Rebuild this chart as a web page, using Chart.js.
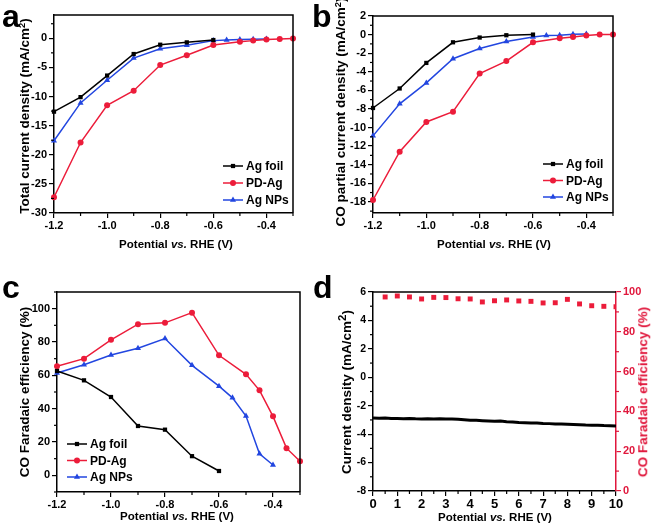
<!DOCTYPE html>
<html>
<head>
<meta charset="utf-8">
<script src="https://cdn.jsdelivr.net/npm/chart.js@4.4.1/dist/chart.umd.min.js"></script>
<style>
  body { margin: 0; background: #fff; }
  #wrap { position: relative; width: 653px; height: 529px; background: #fff; overflow: hidden; }
  canvas { position: absolute; }
  .lbl { position: absolute; font-family: "Liberation Sans", Arial, sans-serif; font-weight: bold; color: #000; white-space: nowrap; line-height: 1; }
  .letter { font-size: 32px; }
  .xt { font-size: 11.5px; transform: translate(-50%, -50%); }
  .yt { font-size: 13.5px; transform: translate(-50%, -50%) rotate(-90deg); }
  sup { font-size: 0.7em; vertical-align: 0.45em; line-height: 0; }
</style>
</head>
<body>
<div id="wrap">
  <canvas id="chartA" width="320" height="260" style="left:0;top:0"></canvas>
  <canvas id="chartB" width="333" height="260" style="left:320px;top:0"></canvas>
  <canvas id="chartC" width="320" height="269" style="left:0;top:260px"></canvas>
  <canvas id="chartD" width="333" height="269" style="left:320px;top:260px"></canvas>

  <div class="lbl letter" style="left:2px;top:0">a</div>
  <div class="lbl letter" style="left:312px;top:0">b</div>
  <div class="lbl letter" style="left:2px;top:271px">c</div>
  <div class="lbl letter" style="left:313px;top:271px">d</div>

  <div class="lbl xt" style="left:176px;top:245px">Potential <i>vs.</i> RHE (V)</div>
  <div class="lbl xt" style="left:494px;top:245px">Potential <i>vs.</i> RHE (V)</div>
  <div class="lbl xt" style="left:177px;top:517px">Potential <i>vs.</i> RHE (V)</div>
  <div class="lbl xt" style="left:495px;top:518px">Potential <i>vs.</i> RHE (V)</div>

  <div class="lbl yt" style="left:25px;top:116px">Total current density (mA/cm<sup>2</sup>)</div>
  <div class="lbl yt" style="left:341px;top:112px">CO partial current density (mA/cm<sup>2</sup>)</div>
  <div class="lbl yt" style="left:25px;top:392px">CO Faradaic efficiency (%)</div>
  <div class="lbl yt" style="left:347px;top:392px">Current density (mA/cm<sup style="font-size:0.85em">2</sup>)</div>
  <div class="lbl yt" style="left:643px;top:392px;color:#e0173c">CO Faradaic efficiency (%)</div>
</div>

<script>
// potentials (V vs RHE) for each sample
const potFoil = [-1.2, -1.1, -1.0, -0.9, -0.8, -0.7, -0.6];
const potPD = [-1.2, -1.1, -1.0, -0.9, -0.8, -0.7, -0.6, -0.5, -0.45, -0.4, -0.35, -0.3];
const potNP = [-1.2, -1.1, -1.0, -0.9, -0.8, -0.7, -0.6, -0.55, -0.5, -0.45, -0.4];

// a: total current density
const totalFoil = [-12.6, -10.1, -6.4, -2.7, -1.1, -0.7, -0.3];
const totalPD = [-27.3, -17.9, -11.5, -9.0, -4.6, -2.9, -1.15, -0.6, -0.4, -0.2, -0.1, -0.05];
const totalNP = [-17.6, -11.1, -7.2, -3.4, -1.8, -1.2, -0.4, -0.3, -0.2, -0.15, -0.1];

// b: CO partial current density
const coFoil = [-7.9, -5.8, -3.05, -0.83, -0.32, -0.07, 0];
const coPD = [-17.8, -12.6, -9.4, -8.3, -4.2, -2.85, -0.83, -0.4, -0.25, -0.1, 0, 0];
const coNP = [-10.9, -7.45, -5.2, -2.6, -1.5, -0.75, -0.25, -0.1, -0.07, 0.03, 0.07];

// c: CO faradaic efficiency
const feFoil = [62.6, 57, 47, 29.6, 27.4, 11.5, 2.6];
const fePD = [65.4, 70, 81.3, 90.7, 91.5, 97.6, 72, 60.6, 51, 35.4, 16.3, 8.5];
const feNP = [61.4, 66.4, 72.2, 76.3, 82.1, 66, 53.5, 46.5, 35.6, 12.9, 6.2];

// d: stability
const timeJ = [0, 0.25, 0.5, 0.75, 1, 1.25, 1.5, 1.75, 2, 2.25, 2.5, 2.75, 3, 3.25, 3.5, 3.75, 4, 4.25, 4.5, 4.75,
  5, 5.25, 5.5, 5.75, 6, 6.25, 6.5, 6.75, 7, 7.25, 7.5, 7.75, 8, 8.25, 8.5, 8.75, 9, 9.25, 9.5, 9.75, 10];
const stabJ = [-2.86, -2.88, -2.87, -2.90, -2.90, -2.91, -2.90, -2.92, -2.93, -2.91, -2.93, -2.92, -2.93, -2.94, -2.96, -2.99,
  -3.02, -3.03, -3.05, -3.07, -3.09, -3.08, -3.12, -3.15, -3.18, -3.19, -3.21, -3.22, -3.25, -3.26, -3.28, -3.28,
  -3.30, -3.32, -3.34, -3.36, -3.37, -3.38, -3.40, -3.41, -3.43];
const timeFE = [0.5, 1, 1.5, 2, 2.5, 3, 3.5, 4, 4.5, 5, 5.5, 6, 6.5, 7, 7.5, 8, 8.5, 9, 9.5, 10];
const stabFE = [97.5, 98.0, 97.5, 96.5, 97.3, 97.2, 96.6, 96.5, 95.0, 95.6, 96.0, 95.5, 95.3, 94.5, 94.6, 96.3, 94.0, 93.1, 92.8, 92.6];

// tick values
const potTicks = [-1.2, -1.0, -0.8, -0.6, -0.4];
const totalTicks = [-30, -25, -20, -15, -10, -5, 0];
const coTicks = [-18, -16, -14, -12, -10, -8, -6, -4, -2, 0, 2];
const feTicks = [0, 20, 40, 60, 80, 100];
const timeTicks = [0, 1, 2, 3, 4, 5, 6, 7, 8, 9, 10];
const stabJTicks = [-8, -6, -4, -2, 0, 2, 4, 6];
const stabFETicks = [0, 20, 40, 60, 80, 100];

const BLACK = '#000000', RED = '#ec1c3a', BLUE = '#2246e0', AXRED = '#e0173c';

Chart.defaults.font.family = '"Liberation Sans", Arial, sans-serif';
Chart.defaults.font.weight = 'bold';
Chart.defaults.color = '#000';

function pts(xs, ys) {
  return xs.map((x, i) => ({ x: x, y: ys[i] }));
}

// top/right frame and short minor ticks
const framePlugin = {
  id: 'frame',
  afterDraw(chart, args, opts) {
    const { ctx, chartArea: a, scales } = chart;
    ctx.save();
    ctx.strokeStyle = '#000';
    ctx.lineWidth = 1.5;
    ctx.beginPath();
    ctx.moveTo(a.left, a.top);
    ctx.lineTo(a.right, a.top);
    if (!opts.noRight) {
      ctx.lineTo(a.right, a.bottom);
    }
    ctx.stroke();
    (opts.minor || []).forEach(m => {
      const s = scales[m.id];
      const major = s.ticks.map(t => t.value);
      ctx.strokeStyle = m.color || '#000';
      ctx.lineWidth = 1.2;
      for (let k = Math.ceil(s.min / m.step - 1e-6); k * m.step <= s.max + 1e-9; k++) {
        const v = k * m.step;
        if (major.some(t => Math.abs(t - v) < m.step / 10)) continue;
        const p = s.getPixelForValue(v);
        ctx.beginPath();
        if (s.axis === 'x') { ctx.moveTo(p, a.bottom); ctx.lineTo(p, a.bottom + 3); }
        else if (s.position === 'left') { ctx.moveTo(a.left, p); ctx.lineTo(a.left - 3, p); }
        else { ctx.moveTo(a.right, p); ctx.lineTo(a.right + 3, p); }
        ctx.stroke();
      }
    });
    ctx.restore();
  }
};

// legend with line + marker sample
const lineLegend = {
  id: 'lineLegend',
  afterDraw(chart, args, o) {
    if (o.x === undefined) return;
    const ctx = chart.ctx;
    chart.data.datasets.forEach((ds, i) => {
      const y = o.y + i * o.gap;
      ctx.save();
      ctx.strokeStyle = ds.borderColor;
      ctx.lineWidth = 1.5;
      ctx.beginPath();
      ctx.moveTo(o.x, y);
      ctx.lineTo(o.x + 20, y);
      ctx.stroke();
      ctx.fillStyle = ds.borderColor;
      Chart.helpers.drawPoint(ctx, { pointStyle: ds.pointStyle, radius: ds.pointRadius, rotation: 0, borderWidth: 0 }, o.x + 10, y);
      ctx.fillStyle = '#000';
      ctx.font = 'bold 12px "Liberation Sans", Arial, sans-serif';
      ctx.textBaseline = 'middle';
      ctx.fillText(ds.label, o.x + 23, y + 1);
      ctx.restore();
    });
  }
};

function series(label, xs, ys, color, style, r) {
  return {
    label: label, data: pts(xs, ys), borderColor: color, backgroundColor: color,
    pointBackgroundColor: color, pointBorderColor: color, pointBorderWidth: 0,
    pointStyle: style, pointRadius: r, borderWidth: 1.5, tension: 0, clip: false
  };
}

function axis(o) {
  return {
    type: 'linear', position: o.position, min: o.min, max: o.max,
    afterFit: s => { if (o.w !== undefined) s.width = o.w; if (o.h !== undefined) s.height = o.h; },
    afterBuildTicks: s => { s.ticks = o.ticks.map(v => ({ value: v })); },
    ticks: {
      autoSkip: false, maxRotation: 0,
      color: o.color || '#000', padding: o.pad === undefined ? 2 : o.pad,
      font: { size: o.size || 11, weight: 'bold' },
      callback: o.fmt || (v => v)
    },
    grid: { display: true, drawOnChartArea: false, drawTicks: true, tickLength: 5, color: o.color || '#000', lineWidth: 1.2 },
    border: { display: true, color: o.color || '#000', width: 1.5 }
  };
}

const fmt1 = v => v.toFixed(1);

function threeSeries(id, ys, opts) {
  new Chart(document.getElementById(id), {
    type: 'line',
    data: {
      datasets: [
        series('Ag foil', potFoil, ys[0], BLACK, 'rect', 3),
        series('PD-Ag', potPD, ys[1], RED, 'circle', 3),
        series('Ag NPs', potNP, ys[2], BLUE, 'triangle', 3.5)
      ]
    },
    options: {
      responsive: false, animation: false, devicePixelRatio: 1,
      layout: { padding: opts.padding },
      plugins: {
        legend: { display: false }, tooltip: { enabled: false },
        frame: { minor: [{ id: 'x', step: 0.1 }, { id: 'y', step: opts.yMinor }] },
        lineLegend: opts.legend
      },
      scales: {
        x: axis({ position: 'bottom', min: -1.2, max: -0.3, ticks: potTicks, h: opts.xh, fmt: fmt1, pad: 1 }),
        y: axis({ position: 'left', min: opts.ymin, max: opts.ymax, ticks: opts.yticks, w: opts.yw })
      }
    },
    plugins: [framePlugin, lineLegend]
  });
}

threeSeries('chartA', [totalFoil, totalPD, totalNP], {
  padding: { top: 15, right: 27, left: 0, bottom: 0 }, xh: 47, yw: 54,
  ymin: -30, ymax: 4, yticks: totalTicks, yMinor: 2.5,
  legend: { x: 223, y: 166, gap: 17 }
});

threeSeries('chartB', [coFoil, coPD, coNP], {
  padding: { top: 16, right: 40, left: 0, bottom: 0 }, xh: 47, yw: 53,
  ymin: -19.2, ymax: 2, yticks: coTicks, yMinor: 1,
  legend: { x: 223, y: 164, gap: 16.5 }
});

threeSeries('chartC', [feFoil, fePD, feNP], {
  padding: { top: 32, right: 20, left: 0, bottom: 0 }, xh: 37, yw: 57,
  ymin: -10, ymax: 110, yticks: feTicks, yMinor: 10,
  legend: { x: 67, y: 184, gap: 16.5 }
});

new Chart(document.getElementById('chartD'), {
  type: 'line',
  data: {
    datasets: [
      {
        label: 'Current density', data: pts(timeJ, stabJ), yAxisID: 'y',
        borderColor: BLACK, borderWidth: 3, pointRadius: 0, tension: 0
      },
      {
        label: 'CO Faradaic efficiency', data: pts(timeFE, stabFE), yAxisID: 'y1',
        showLine: false, pointStyle: 'rect', pointRadius: 3.5, pointBorderWidth: 0,
        pointBackgroundColor: RED, borderColor: RED, backgroundColor: RED
      }
    ]
  },
  options: {
    responsive: false, animation: false, devicePixelRatio: 1,
    layout: { padding: { top: 32, right: 0, left: 0, bottom: 0 } },
    plugins: {
      legend: { display: false }, tooltip: { enabled: false },
      frame: {
        noRight: true,
        minor: [{ id: 'x', step: 0.5 }, { id: 'y', step: 1 }, { id: 'y1', step: 10, color: AXRED }]
      }
    },
    scales: {
      x: axis({ position: 'bottom', min: 0, max: 10, ticks: timeTicks, h: 38, size: 13, pad: 1 }),
      y: axis({ position: 'left', min: -8, max: 6, ticks: stabJTicks, w: 53, size: 10.5 }),
      y1: axis({ position: 'right', min: 0, max: 100, ticks: stabFETicks, w: 37, size: 11, color: AXRED })
    }
  },
  plugins: [framePlugin]
});
</script>
</body>
</html>
